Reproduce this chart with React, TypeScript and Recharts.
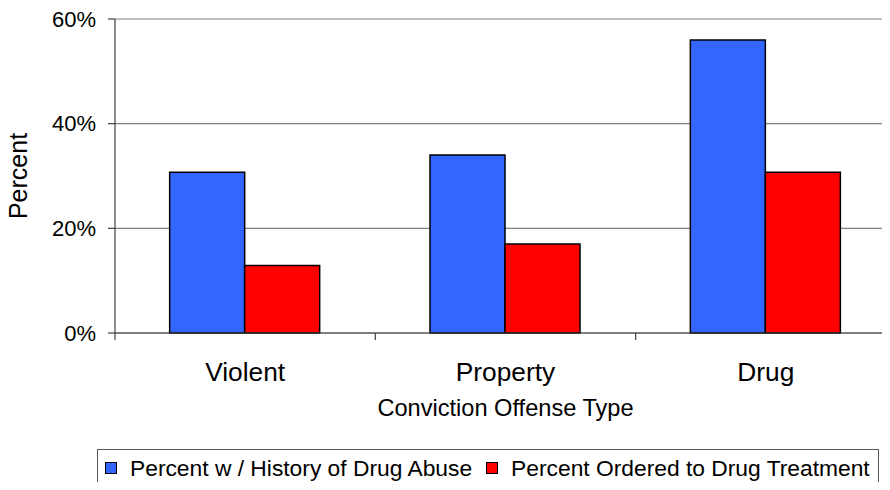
import React from "react";
import { Bar, BarChart, CartesianGrid, Legend, XAxis, YAxis } from "recharts";

// values (percent)
const categories = ["Violent", "Property", "Drug"];
const historyOfAbuse = [30.7, 34.0, 56.0];
const orderedToTreatment = [12.9, 17.0, 30.7];
const yTicks = [0, 20, 40, 60];

const SERIES = [
  { key: "history", name: "Percent w / History of Drug Abuse", color: "#3366FF" },
  { key: "treatment", name: "Percent Ordered to Drug Treatment", color: "#FF0000" },
];

const FONT = "'Liberation Sans', Arial, sans-serif";
const CHART_W = 896;
const CHART_H = 490;
const Y_AXIS_W = 115;
const BAND = (CHART_W - Y_AXIS_W) / categories.length;

const data = categories.map((name, i) => ({
  name,
  history: historyOfAbuse[i],
  treatment: orderedToTreatment[i],
}));

function CategoryTick({ x, y, payload }: { x?: number; y?: number; payload?: { value: string } }) {
  const cx = Number(x);
  const cy = Number(y);
  return (
    <g>
      <line x1={cx - BAND / 2} x2={cx - BAND / 2} y1={cy} y2={cy + 7} stroke="#404040" strokeWidth={1.2} />
      <text x={cx} y={cy + 41} textAnchor="middle" dominantBaseline="middle" fontSize={26.3} fill="#000" fontFamily={FONT}>
        {payload?.value}
      </text>
    </g>
  );
}

function PercentLabel({ viewBox }: { viewBox?: { x: number; y: number; width: number; height: number } }) {
  if (!viewBox) return null;
  const x = viewBox.x + 20;
  const y = viewBox.y + viewBox.height / 2;
  return (
    <text
      x={x}
      y={y}
      transform={`rotate(-90, ${x}, ${y})`}
      textAnchor="middle"
      dominantBaseline="middle"
      fontSize={25}
      fill="#000"
      fontFamily={FONT}
    >
      Percent
    </text>
  );
}

function LegendBox() {
  return (
    <div
      style={{
        boxSizing: "border-box",
        width: 782,
        height: 48,
        border: "1px solid #555",
        display: "flex",
        alignItems: "center",
        paddingLeft: 7,
        paddingBottom: 10,
        fontFamily: FONT,
        fontSize: 22.8,
        color: "#000",
        whiteSpace: "nowrap",
      }}
    >
      {SERIES.map((s, i) => (
        <span key={s.key} style={{ display: "flex", alignItems: "center", marginLeft: i === 0 ? 0 : 14 }}>
          <span
            style={{
              display: "inline-block",
              width: 10,
              height: 10,
              background: s.color,
              border: "1px solid #000",
              marginRight: 13,
            }}
          />
          {s.name}
        </span>
      ))}
    </div>
  );
}

export default function App() {
  return (
    <div style={{ position: "relative", margin: -8, width: 890, height: 490, overflow: "hidden", background: "#fff" }}>
      <BarChart
        width={CHART_W}
        height={CHART_H}
        data={data}
        margin={{ top: 19, right: 0, bottom: 0, left: 0 }}
        barCategoryGap="21%"
        barGap={0}
      >
        <CartesianGrid vertical={false} stroke="#808080" strokeWidth={1.2} />
        <XAxis
          dataKey="name"
          height={109}
          stroke="#404040"
          strokeWidth={1.2}
          tickLine={false}
          tickSize={0}
          tickMargin={0}
          tick={<CategoryTick />}
          interval={0}
          label={{
            value: "Conviction Offense Type",
            position: "insideTop",
            offset: 66,
            fontSize: 23.6,
            fill: "#000",
            fontFamily: FONT,
          }}
        />
        <YAxis
          width={Y_AXIS_W}
          domain={[0, 60]}
          ticks={yTicks}
          tickFormatter={(v) => `${v}%`}
          tickSize={7}
          tickMargin={12}
          stroke="#404040"
          strokeWidth={1.2}
          tick={{ fontSize: 22, fill: "#000", fontFamily: FONT }}
          label={<PercentLabel />}
        />
        <Legend
          verticalAlign="bottom"
          content={<LegendBox />}
          wrapperStyle={{ left: 97, top: 449, width: 782, height: 48 }}
        />
        {SERIES.map((s) => (
          <Bar
            key={s.key}
            dataKey={s.key}
            name={s.name}
            fill={s.color}
            stroke="#000"
            strokeWidth={1.5}
            isAnimationActive={false}
          />
        ))}
      </BarChart>
    </div>
  );
}
